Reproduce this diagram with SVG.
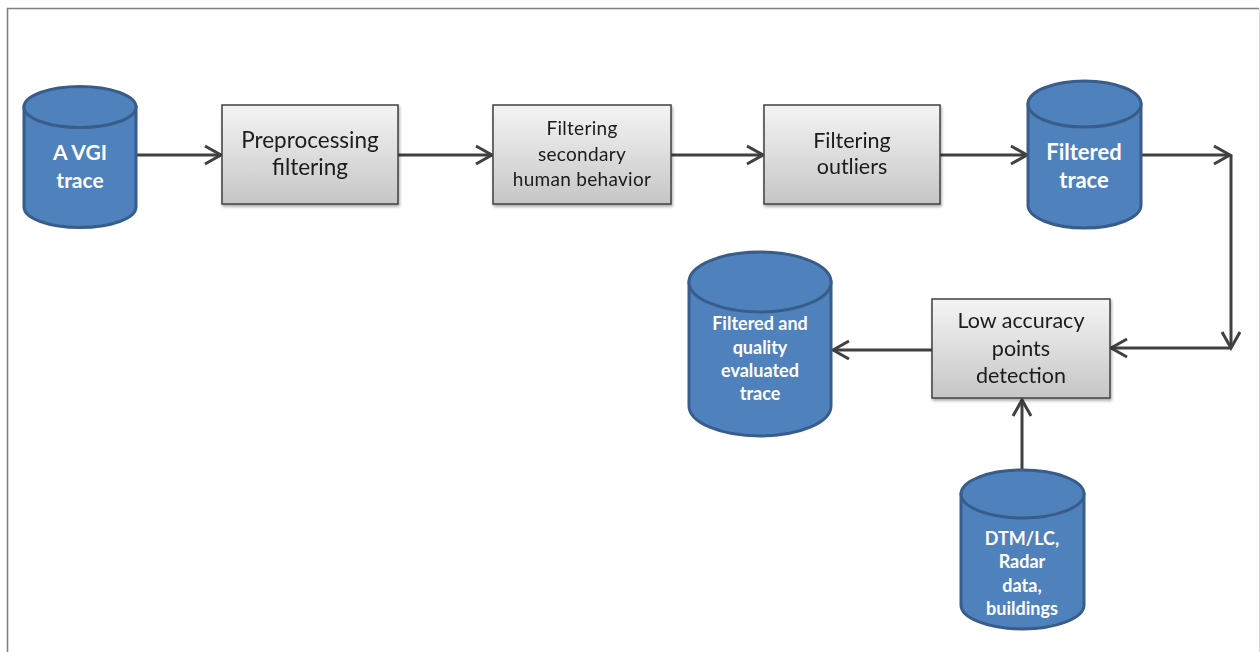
<svg xmlns="http://www.w3.org/2000/svg" width="1260" height="652" viewBox="0 0 1260 652">
<defs>
<linearGradient id="boxg" x1="0" y1="0" x2="0" y2="1">
<stop offset="0" stop-color="#f4f4f4"/>
<stop offset="1" stop-color="#c6c6c6"/>
</linearGradient>
<marker id="ah" markerUnits="userSpaceOnUse" markerWidth="24" markerHeight="24" viewBox="0 0 24 24" refX="21" refY="12" orient="auto">
<path d="M5,3 L21,12 L5,21" fill="none" stroke="#404040" stroke-width="3" stroke-linejoin="miter"/>
</marker>
<filter id="sh" x="-5%" y="-5%" width="115%" height="120%">
<feGaussianBlur in="SourceAlpha" stdDeviation="1.5"/>
<feOffset dx="1" dy="2" result="b"/>
<feComponentTransfer><feFuncA type="linear" slope="0.35"/></feComponentTransfer>
<feMerge><feMergeNode/><feMergeNode in="SourceGraphic"/></feMerge>
</filter>
</defs>
<style>
.cyl{fill:#4f81bd;stroke:#385d8a;stroke-width:3}
.box{fill:url(#boxg);stroke:#404040;stroke-width:1.5}
.ct{font-family:Lato,"Liberation Sans",sans-serif;font-weight:bold;fill:#ffffff;text-anchor:middle}
.bt{font-family:Lato,"Liberation Sans",sans-serif;fill:#1a1a1a;text-anchor:middle}
.con{fill:none;stroke:#404040;stroke-width:3}
</style>
<rect x="0" y="0" width="1260" height="652" fill="#ffffff"/>
<path d="M7.5,652 L7.5,8.5 L1259,8.5" fill="none" stroke="#808080" stroke-width="1.6"/>
<line x1="1259.5" y1="9" x2="1259.5" y2="652" stroke="#d8d8d8" stroke-width="1"/>

<g id="connectors">
<line class="con" x1="136" y1="155" x2="221" y2="155" marker-end="url(#ah)"/>
<line class="con" x1="398" y1="155" x2="492" y2="155" marker-end="url(#ah)"/>
<line class="con" x1="671" y1="155" x2="763" y2="155" marker-end="url(#ah)"/>
<line class="con" x1="940" y1="155" x2="1027" y2="155" marker-end="url(#ah)"/>
<line class="con" x1="1141" y1="155" x2="1230" y2="155" marker-end="url(#ah)"/>
<line class="con" x1="1231" y1="155" x2="1231" y2="348" marker-end="url(#ah)"/>
<line class="con" x1="1231" y1="348" x2="1111" y2="348" marker-end="url(#ah)"/>
<line class="con" x1="932" y1="350" x2="833" y2="350" marker-end="url(#ah)"/>
<line class="con" x1="1022" y1="470" x2="1022" y2="400" marker-end="url(#ah)"/>
</g>

<g id="vgi">
<path class="cyl" d="M24,107 L24,207 A56,20.5 0 0 0 136,207 L136,107 Z"/>
<ellipse class="cyl" cx="80" cy="107" rx="56" ry="20.5"/>
<text class="ct" font-size="21"><tspan x="80" y="160">A VGI</tspan><tspan x="80" y="188">trace</tspan></text>
</g>

<g id="preproc" filter="url(#sh)">
<rect class="box" x="222" y="105" width="176" height="99"/>
<text class="bt" font-size="22.5"><tspan x="310" y="148">Preprocessing</tspan><tspan x="310" y="175">filtering</tspan></text>
</g>

<g id="secondary" filter="url(#sh)">
<rect class="box" x="493" y="105" width="178" height="99"/>
<text class="bt" font-size="19" letter-spacing="0.3"><tspan x="582" y="135">Filtering</tspan><tspan x="582" y="161">secondary</tspan><tspan x="582" y="186">human behavior</tspan></text>
</g>

<g id="outliers" filter="url(#sh)">
<rect class="box" x="764" y="105" width="176" height="99"/>
<text class="bt" font-size="21.5"><tspan x="852" y="148">Filtering</tspan><tspan x="852" y="174">outliers</tspan></text>
</g>

<g id="filtered">
<path class="cyl" d="M1028,104 L1028,205 A56.5,23 0 0 0 1141,205 L1141,104 Z"/>
<ellipse class="cyl" cx="1084.5" cy="104" rx="56.5" ry="23"/>
<text class="ct" font-size="22"><tspan x="1084" y="160">Filtered</tspan><tspan x="1084" y="188">trace</tspan></text>
</g>

<g id="lowacc" filter="url(#sh)">
<rect class="box" x="932" y="299" width="178" height="99"/>
<text class="bt" font-size="21.5"><tspan x="1021" y="328">Low accuracy</tspan><tspan x="1021" y="356">points</tspan><tspan x="1021" y="383">detection</tspan></text>
</g>

<g id="evaluated">
<path class="cyl" d="M689,282 L689,406 A71,30 0 0 0 831,406 L831,282 Z"/>
<ellipse class="cyl" cx="760" cy="282" rx="71" ry="30"/>
<text class="ct" font-size="18"><tspan x="760" y="330">Filtered and</tspan><tspan x="760" y="354">quality</tspan><tspan x="760" y="377">evaluated</tspan><tspan x="760" y="400">trace</tspan></text>
</g>

<g id="dtm">
<path class="cyl" d="M961,494 L961,605 A61.5,24 0 0 0 1084,605 L1084,494 Z"/>
<ellipse class="cyl" cx="1022.5" cy="494" rx="61.5" ry="24"/>
<text class="ct" font-size="18"><tspan x="1022" y="545">DTM/LC,</tspan><tspan x="1022" y="568">Radar</tspan><tspan x="1022" y="592">data,</tspan><tspan x="1022" y="615">buildings</tspan></text>
</g>
</svg>
